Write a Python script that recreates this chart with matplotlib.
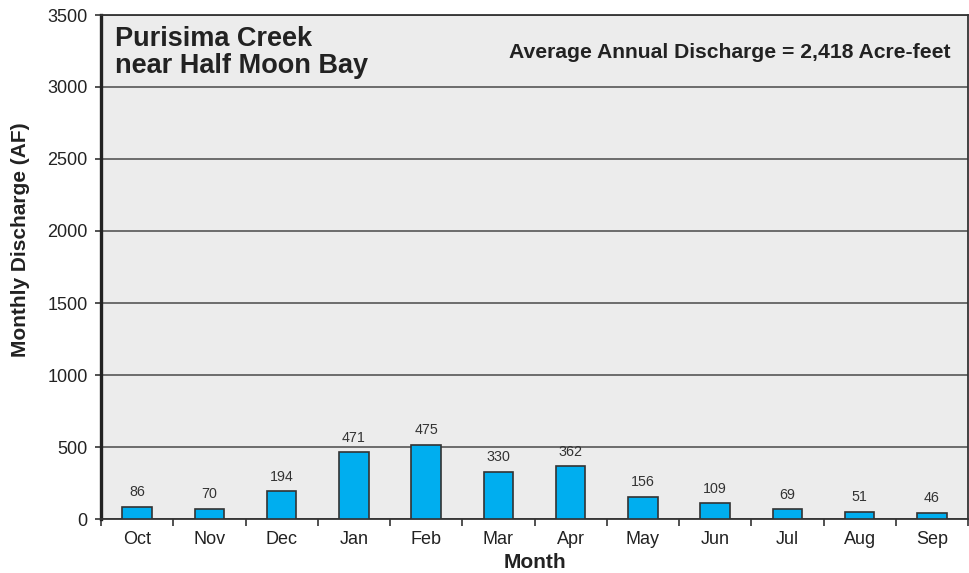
import matplotlib
matplotlib.use("Agg")
import matplotlib.pyplot as plt
import numpy as np

plt.rcParams['font.family'] = ['Liberation Sans', 'DejaVu Sans']

months = ["Oct", "Nov", "Dec", "Jan", "Feb", "Mar", "Apr", "May", "Jun", "Jul", "Aug", "Sep"]
label_values = [86, 70, 194, 471, 475, 330, 362, 156, 109, 69, 51, 46]
bar_values = [86, 70, 192, 462, 514, 326, 366, 153, 109, 68, 49, 45]
yticks = [0, 500, 1000, 1500, 2000, 2500, 3000, 3500]

fig = plt.figure(figsize=(9.69, 5.73), dpi=100)
ax = fig.add_axes([101/969, 1-519/573, 867/969, 504/573])
ax.set_facecolor("#ECECEC")

x = np.arange(len(months))
ax.set_axisbelow(True)
ax.yaxis.grid(True, color="#4a4a4a", linewidth=1.1)
bars = ax.bar(x, bar_values, width=0.41, color="#00AEEF", edgecolor="#333333", linewidth=1.2, zorder=3)
for xi, h, lab in zip(x, bar_values, label_values):
    ax.annotate(str(lab), (xi, h), xytext=(0, 5.5), textcoords="offset points",
                ha="center", va="bottom", fontsize=10.3, color="#333333")

ax.set_xlim(-0.5, len(months) - 0.5)
ax.set_ylim(0, 3500)
ax.set_yticks(yticks)
ax.set_yticklabels([str(v) for v in yticks])
ax.set_xticks(x)
ax.set_xticklabels(months)
ax.set_xticks(np.arange(len(months) + 1) - 0.5, minor=True)
ax.tick_params(axis="x", which="major", length=0, pad=9, labelsize=13, labelcolor="#222222")
ax.tick_params(axis="x", which="minor", length=5, width=1.2, color="#333333", direction="out")
ax.tick_params(axis="y", which="major", length=4.5, width=1.2, color="#333333", pad=5, labelsize=13, labelcolor="#222222")

for side in ["top", "right", "bottom"]:
    ax.spines[side].set_color("#333333")
    ax.spines[side].set_linewidth(1.3)
ax.spines["left"].set_color("#222222")
ax.spines["left"].set_linewidth(2.4)

ax.set_xlabel("Month", fontsize=15, fontweight="bold", color="#222222")
ax.xaxis.set_label_coords(0.5, -(562-519)/504)
ax.xaxis.label.set_va("center")
ax.set_ylabel("Monthly Discharge (AF)", fontsize=15, fontweight="bold", color="#222222")
ax.yaxis.set_label_coords(-(101-21)/867, (519-240)/504)
ax.yaxis.label.set_va("center")

ax.text(0.016, (519-45.7)/504, "Purisima Creek", transform=ax.transAxes,
        fontsize=19.5, fontweight="bold", color="#222222", ha="left", va="baseline")
ax.text(0.016, (519-72.7)/504, "near Half Moon Bay", transform=ax.transAxes,
        fontsize=19.5, fontweight="bold", color="#222222", ha="left", va="baseline")
ax.text((950-101)/867, (519-57.7)/504, "Average Annual Discharge = 2,418 Acre-feet",
        transform=ax.transAxes, fontsize=15.2, fontweight="bold", color="#222222",
        ha="right", va="baseline")

fig.savefig("out.png", dpi=100)
